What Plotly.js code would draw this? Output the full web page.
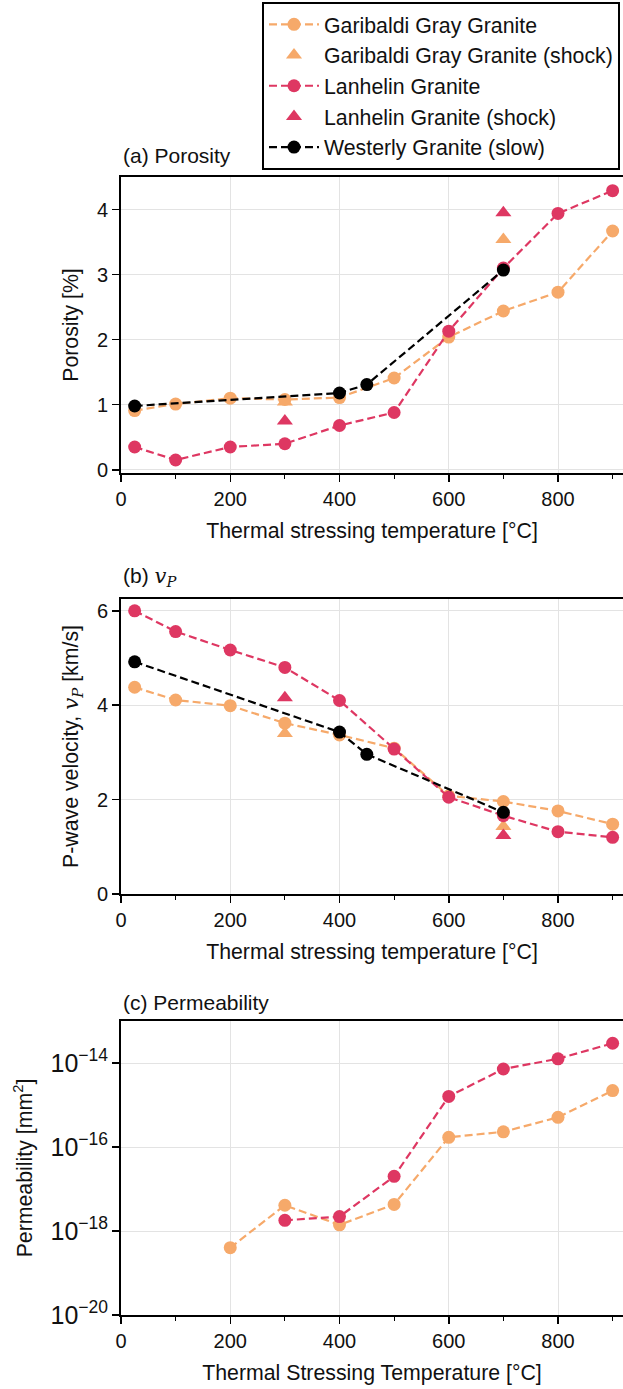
<!DOCTYPE html>
<html>
<head>
<meta charset="utf-8">
<script src="https://cdn.plot.ly/plotly-3.0.1.min.js"></script>
<style>html,body{margin:0;padding:0;background:#fff;}</style>
</head>
<body>
<div id="chart" style="width:623px;height:1389px;"></div>
<script>
// ---- data ----
const tempsGG = [25, 100, 200, 300, 400, 500, 600, 700, 800, 900];
const porGG   = [0.91, 1.01, 1.10, 1.08, 1.11, 1.41, 2.04, 2.44, 2.73, 3.67];
const vpGG    = [4.38, 4.11, 3.99, 3.62, 3.37, 3.09, 2.08, 1.96, 1.76, 1.48];

const tempsLH = [25, 100, 200, 300, 400, 500, 600, 700, 800, 900];
const porLH   = [0.35, 0.15, 0.35, 0.40, 0.68, 0.88, 2.13, 3.10, 3.94, 4.29];
const vpLH    = [6.00, 5.56, 5.17, 4.80, 4.10, 3.07, 2.05, 1.66, 1.32, 1.20];

const tempsShock = [300, 700];
const porGGShock = [1.04, 3.54];
const porLHShock = [0.75, 3.95];
const vpGGShock  = [3.40, 1.43];
const vpLHShock  = [4.16, 1.24];

const tempsWG = [25, 400, 450, 700];
const porWG   = [0.98, 1.18, 1.31, 3.07];
const vpWG    = [4.92, 3.43, 2.96, 1.73];

const tempsPermGG = [200, 300, 400, 500, 600, 700, 800, 900];
const permGG      = [4.0e-19, 4.1e-18, 1.4e-18, 4.3e-18, 1.7e-16, 2.3e-16, 5.1e-16, 2.2e-15];
const tempsPermLH = [300, 400, 500, 600, 700, 800, 900];
const permLH      = [1.8e-18, 2.2e-18, 2.0e-17, 1.6e-15, 7.2e-15, 1.26e-14, 2.95e-14];

const seriesNames = ['Garibaldi Gray Granite', 'Garibaldi Gray Granite (shock)',
                     'Lanhelin Granite', 'Lanhelin Granite (shock)', 'Westerly Granite (slow)'];
const xTickVals = [0, 200, 400, 600, 800];
const xMinorVals = [100, 300, 500, 700, 900];

// ---- styles ----
const ORANGE = '#F6A96A';
const RED = '#DE3762';
const BLACK = '#000000';
const FONT = 'Liberation Sans, Arial, sans-serif';
const DASH = '8px,4px';
const TXT = '#111';

function lineTrace(x, y, name, color, xa, ya, show) {
  return {x: x, y: y, name: name, legendgroup: name, showlegend: show,
    type: 'scatter', mode: 'lines+markers', xaxis: xa, yaxis: ya,
    line: {color: color, width: 2.2, dash: DASH},
    marker: {color: color, size: 13, symbol: 'circle'}};
}
function triTrace(x, y, name, color, xa, ya, show) {
  return {x: x, y: y, name: name, legendgroup: name, showlegend: show,
    type: 'scatter', mode: 'markers', xaxis: xa, yaxis: ya,
    marker: {color: color, size: 14, symbol: 'triangle-up'}};
}

const data = [
  lineTrace(tempsGG, porGG, seriesNames[0], ORANGE, 'x', 'y', true),
  triTrace(tempsShock, porGGShock, seriesNames[1], ORANGE, 'x', 'y', true),
  lineTrace(tempsLH, porLH, seriesNames[2], RED, 'x', 'y', true),
  triTrace(tempsShock, porLHShock, seriesNames[3], RED, 'x', 'y', true),
  lineTrace(tempsWG, porWG, seriesNames[4], BLACK, 'x', 'y', true),

  lineTrace(tempsGG, vpGG, seriesNames[0], ORANGE, 'x2', 'y2', false),
  triTrace(tempsShock, vpGGShock, seriesNames[1], ORANGE, 'x2', 'y2', false),
  lineTrace(tempsLH, vpLH, seriesNames[2], RED, 'x2', 'y2', false),
  triTrace(tempsShock, vpLHShock, seriesNames[3], RED, 'x2', 'y2', false),
  lineTrace(tempsWG, vpWG, seriesNames[4], BLACK, 'x2', 'y2', false),

  lineTrace(tempsPermGG, permGG, seriesNames[0], ORANGE, 'x3', 'y3', false),
  lineTrace(tempsPermLH, permLH, seriesNames[2], RED, 'x3', 'y3', false)
];

const H = 1389;
function dom(topPx, botPx) { return [1 - botPx / H, 1 - topPx / H]; }

function xAxis(anchor, titleText) {
  return {
    anchor: anchor, range: [0, 919], tickvals: xTickVals,
    ticks: 'outside', ticklen: 7, tickwidth: 1.5, tickcolor: '#000',
    minor: {tickvals: xMinorVals, ticks: 'outside', ticklen: 4, tickwidth: 1.2, tickcolor: '#000', showgrid: false},
    showline: true, linecolor: '#000', linewidth: 2, mirror: true,
    showgrid: true, gridcolor: '#e3e3e3', gridwidth: 1, zeroline: false,
    tickfont: {family: FONT, size: 20, color: TXT},
    title: {text: titleText, font: {family: FONT, size: 21.3, color: TXT}, standoff: 14},
    automargin: false
  };
}
function yAxis(anchor, domain, extra, titleText) {
  const ax = {
    anchor: anchor, domain: domain,
    ticks: 'outside', ticklen: 7, tickwidth: 1.5, tickcolor: '#000',
    showline: true, linecolor: '#000', linewidth: 2, mirror: false,
    showgrid: true, gridcolor: '#e3e3e3', gridwidth: 1, zeroline: false,
    tickfont: {family: FONT, size: 20, color: TXT},
    title: {text: titleText, font: {family: FONT, size: 21.3, color: TXT}, standoff: 12},
    automargin: false
  };
  return Object.assign(ax, extra);
}

const layout = {
  width: 623, height: 1389,
  margin: {l: 121, r: 0, t: 0, b: 0, autoexpand: false},
  paper_bgcolor: '#fff', plot_bgcolor: '#fff',
  font: {family: FONT, size: 20, color: TXT},
  showlegend: true,
  legend: {x: (262 - 121) / 502, y: 1 - 2 / H, xanchor: 'left', yanchor: 'top',
    bgcolor: '#fff', bordercolor: '#000', borderwidth: 2, itemwidth: 50,
    font: {family: FONT, size: 21.3, color: TXT}, tracegroupgap: 0},
  xaxis: xAxis('y', 'Thermal stressing temperature [°C]'),
  xaxis2: xAxis('y2', 'Thermal stressing temperature [°C]'),
  xaxis3: xAxis('y3', 'Thermal Stressing Temperature [°C]'),
  yaxis: yAxis('x', dom(177, 473), {range: [-0.05, 4.5], dtick: 1, tick0: 0}, 'Porosity [%]'),
  yaxis2: yAxis('x2', dom(599, 894), {range: [0, 6.25], dtick: 2, tick0: 0},
    'P-wave velocity, <span style="font-family:DejaVu Serif"><i>v</i><sub><i>P</i></sub></span> [km/s]'),
  yaxis3: yAxis('x3', dom(1021, 1315), {type: 'log', range: [-20, -13], dtick: 2,
    exponentformat: 'power', showexponent: 'all'}, 'Permeability [mm<sup>2</sup>]'),
  annotations: [
    {text: '(a) Porosity', xref: 'paper', yref: 'paper', x: 0, y: 1 - 155 / H,
     xanchor: 'left', yanchor: 'middle', showarrow: false, font: {family: FONT, size: 21, color: TXT}},
    {text: '(b) <span style="font-family:DejaVu Serif"><i>v</i><sub><i>P</i></sub></span>', xref: 'paper', yref: 'paper', x: 0, y: 1 - 577 / H,
     xanchor: 'left', yanchor: 'middle', showarrow: false, font: {family: FONT, size: 21, color: TXT}},
    {text: '(c) Permeability', xref: 'paper', yref: 'paper', x: 0, y: 1 - 1002 / H,
     xanchor: 'left', yanchor: 'middle', showarrow: false, font: {family: FONT, size: 21, color: TXT}}
  ]
};

Plotly.newPlot('chart', data, layout, {displayModeBar: false, staticPlot: true});
</script>
</body>
</html>
